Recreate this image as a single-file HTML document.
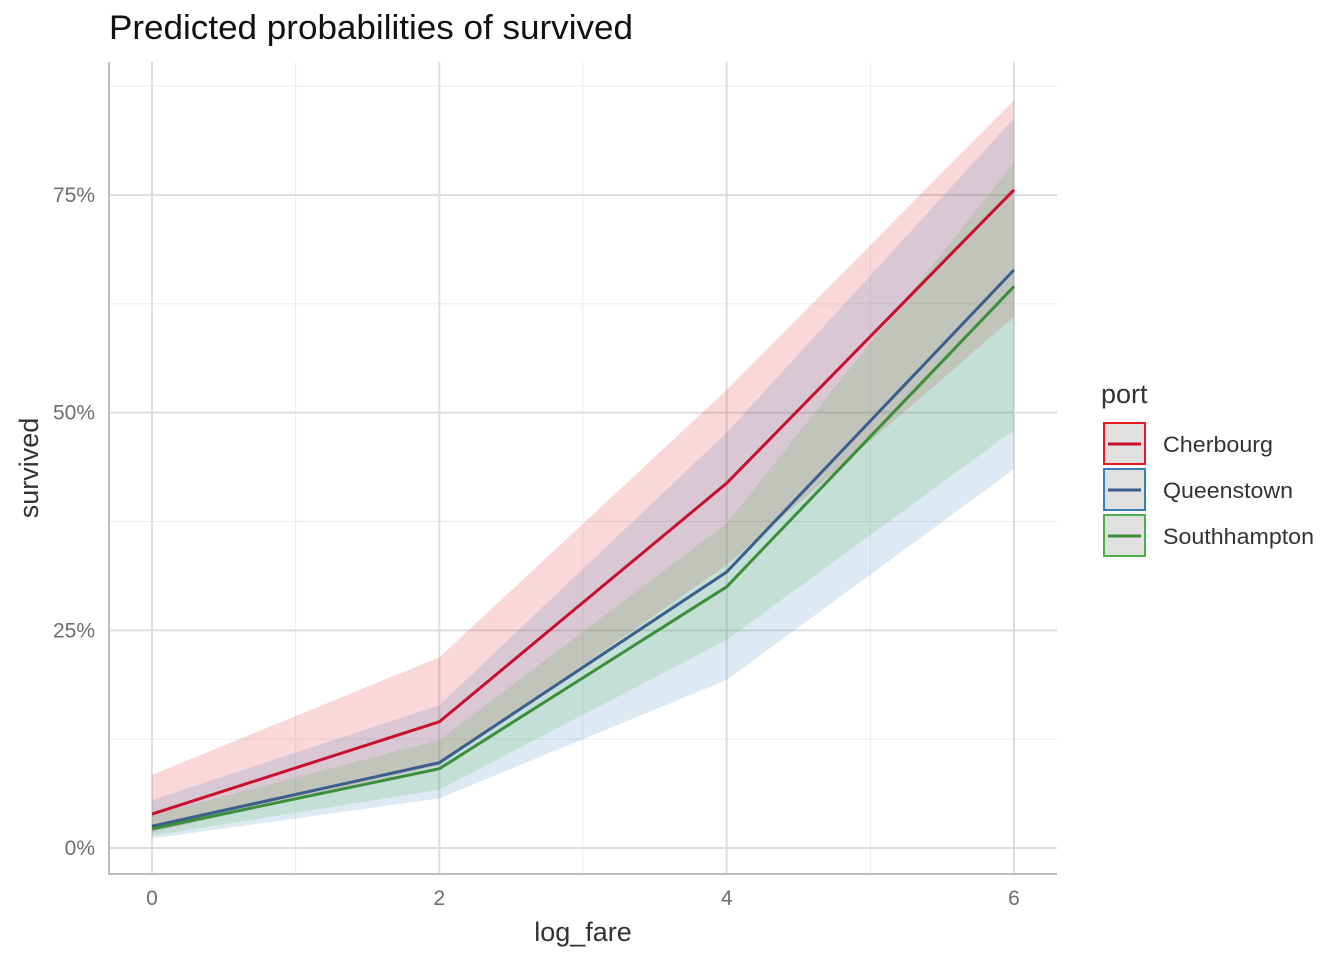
<!DOCTYPE html>
<html><head><meta charset="utf-8">
<style>
body{margin:0;background:#fff;}
svg{display:block;font-family:"Liberation Sans",Arial,sans-serif;}
</style></head>
<body>
<svg id="chart" width="1344" height="960" viewBox="0 0 1344 960" xmlns="http://www.w3.org/2000/svg">
<text x="109" y="39" font-size="34" fill="#111" textLength="524" lengthAdjust="spacingAndGlyphs">Predicted probabilities of survived</text>
<g id="grid"></g>
<g id="ribbons"></g>
<g id="lines"></g>
<line x1="109" y1="62" x2="109" y2="875" stroke="#bdbdbd" stroke-width="2"/>
<line x1="108" y1="874" x2="1057" y2="874" stroke="#bdbdbd" stroke-width="2"/>
<g id="ticks"></g>
<text x="583" y="941" font-size="27" fill="#333" text-anchor="middle">log_fare</text>
<text transform="translate(38,468) rotate(-90)" font-size="27" fill="#333" text-anchor="middle">survived</text>
<g id="legend">
<text x="1101" y="403" font-size="27" fill="#333">port</text>
</g>
</svg>
<script>
const categories = ["Cherbourg","Queenstown","Southhampton"];
const xValues = [0,2,4,6];
const cherbourgFit = [3.9,14.5,41.9,75.6];
const cherbourgLow = [1.8,9.5,32.5,61];
const cherbourgHigh = [8.4,21.9,52.6,85.9];
const queenstownFit = [2.5,9.8,31.7,66.4];
const queenstownLow = [1.1,5.7,19.3,43.5];
const queenstownHigh = [5.5,16.4,47.7,83.8];
const southFit = [2.2,9.1,30.0,64.5];
const southLow = [1.4,6.7,23.9,48];
const southHigh = [3.8,12.4,37.3,78.7];
const yTicks = [0,25,50,75];
const yTickLabels = ["0%","25%","50%","75%"];
const xTicks = [0,2,4,6];
const xTickLabels = ["0","2","4","6"];

const NS="http://www.w3.org/2000/svg";
const xs = v => 152 + v*(1014-152)/6;
const ys = v => 848 - v*(848-195)/75;
function mk(tag, attrs, parent){const e=document.createElementNS(NS,tag);for(const k in attrs)e.setAttribute(k,attrs[k]);parent.appendChild(e);return e;}
const grid=document.getElementById('grid');
[1,3,5].forEach(v=>{const l=mk('line',{x1:xs(v),x2:xs(v),y1:62,y2:874,stroke:'#ebebeb','stroke-width':1},grid);

});
[12.5,37.5,62.5,87.5].forEach(v=>{const l=mk('line',{x1:109,x2:1057,y1:ys(v),y2:ys(v),stroke:'#ebebeb','stroke-width':1},grid);

});
xTicks.forEach(v=>{const l=mk('line',{x1:xs(v),x2:xs(v),y1:62,y2:874,stroke:'#dedede','stroke-width':2},grid);

});
yTicks.forEach(v=>{const l=mk('line',{x1:109,x2:1057,y1:ys(v),y2:ys(v),stroke:'#dedede','stroke-width':2},grid);

});
const ticks=document.getElementById('ticks');
yTicks.forEach((v,i)=>{const t=mk('text',{x:95,y:ys(v)+7,'font-size':21,fill:'#6e6e6e','text-anchor':'end'},ticks);t.textContent=yTickLabels[i];

});
xTicks.forEach((v,i)=>{const t=mk('text',{x:xs(v),y:905,'font-size':21,fill:'#6e6e6e','text-anchor':'middle'},ticks);t.textContent=xTickLabels[i];

});
const series=[
 {fit:cherbourgFit,low:cherbourgLow,high:cherbourgHigh,fill:'#e41a1c',line:'#c8102e'},
 {fit:queenstownFit,low:queenstownLow,high:queenstownHigh,fill:'#377eb8',line:'#3a5f8c'},
 {fit:southFit,low:southLow,high:southHigh,fill:'#4daf4a',line:'#3b8e3a'}];
const labelWidths=[110,130,151];
const rib=document.getElementById('ribbons'), lines=document.getElementById('lines');
series.forEach((s,i)=>{
 let d=xValues.map((x,j)=>(j?'L':'M')+xs(x)+','+ys(s.high[j])).join(' ');
 for(let j=xValues.length-1;j>=0;j--) d+=' L'+xs(xValues[j])+','+ys(s.low[j]);
 const r=mk('path',{d:d+'Z',fill:s.fill,'fill-opacity':0.17},rib);
 
 
 const p=mk('polyline',{points:xValues.map((x,j)=>xs(x)+','+ys(s.fit[j])).join(' '),fill:'none',stroke:s.line,'stroke-width':3},lines);
 
 
});
const leg=document.getElementById('legend');
series.forEach((s,i)=>{
 const y=422+i*46;
 const b=mk('rect',{x:1104,y:y+1,width:41,height:41,fill:'#e0e0e0',stroke:s.fill,'stroke-width':2},leg);
 
 
 const l=mk('line',{x1:1108,x2:1141,y1:y+22,y2:y+22,stroke:s.line,'stroke-width':3},leg);
 
 
 const t=mk('text',{x:1163,y:y+30,'font-size':22,fill:'#333',textLength:labelWidths[i],lengthAdjust:'spacingAndGlyphs'},leg);t.textContent=categories[i];
 
 
});
</script>
</body></html>
